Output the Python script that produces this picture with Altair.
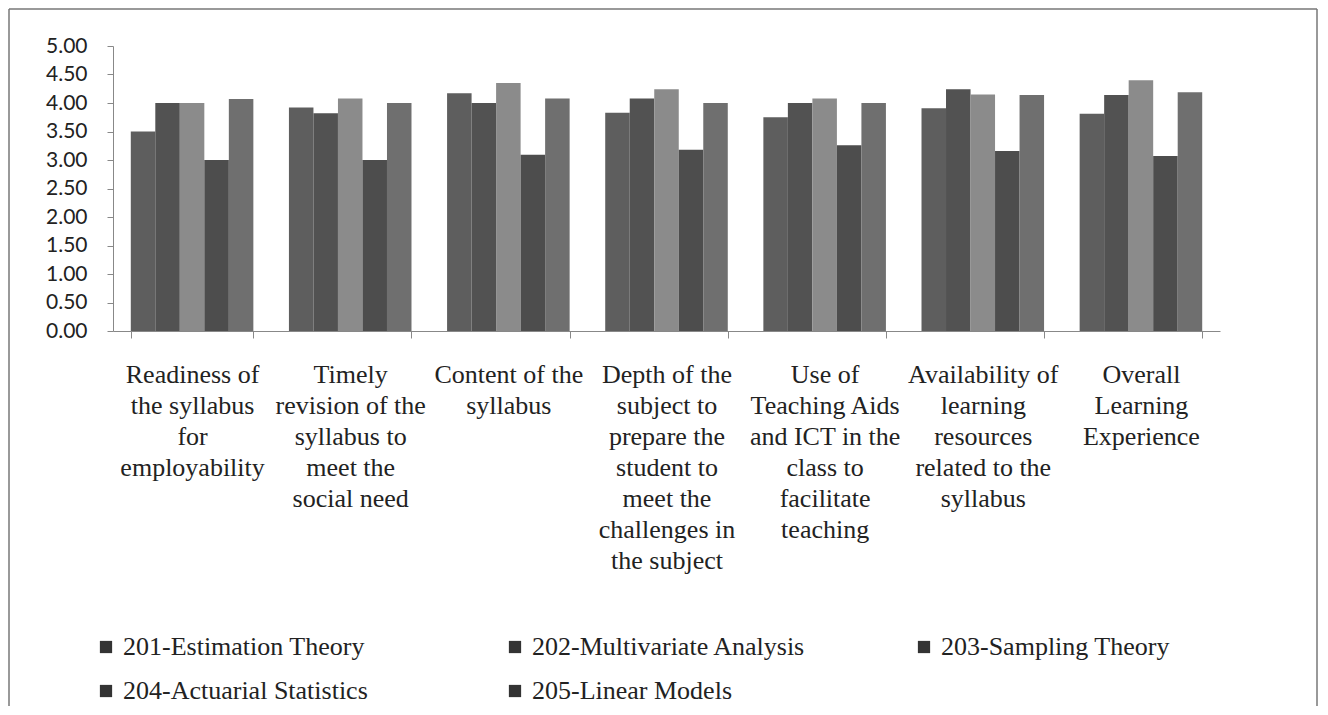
import altair as alt
import pandas as pd

# ---- data ----
categories = [
    "Readiness of|the syllabus|for|employability",
    "Timely|revision of the|syllabus to|meet the|social need",
    "Content of the|syllabus",
    "Depth of the|subject to|prepare the|student to|meet the|challenges in|the subject",
    "Use of|Teaching Aids|and ICT in the|class to|facilitate|teaching",
    "Availability of|learning|resources|related to the|syllabus",
    "Overall|Learning|Experience",
]
series = [
    "201-Estimation Theory",
    "202-Multivariate Analysis",
    "203-Sampling Theory",
    "204-Actuarial Statistics",
    "205-Linear Models",
]
v201 = [3.50, 3.92, 4.17, 3.83, 3.75, 3.91, 3.81]
v202 = [4.00, 3.82, 4.00, 4.08, 4.00, 4.24, 4.14]
v203 = [4.00, 4.08, 4.35, 4.24, 4.08, 4.15, 4.40]
v204 = [3.00, 3.00, 3.09, 3.18, 3.26, 3.16, 3.07]
v205 = [4.07, 4.00, 4.08, 4.00, 4.00, 4.14, 4.19]
y_ticks = [0, 0.5, 1, 1.5, 2, 2.5, 3, 3.5, 4, 4.5, 5]

bar_colors = ["#5e5e5e", "#525252", "#8b8b8b", "#4d4d4d", "#6f6f6f"]
legend_colors = ["#333333"] * 5

all_vals = [v201, v202, v203, v204, v205]
rows = []
for ci, cat in enumerate(categories):
    for s, vals in zip(series, all_vals):
        rows.append({"category": cat, "series": s, "value": vals[ci]})
df = pd.DataFrame(rows)

base = alt.Chart(df)

bars = base.mark_bar().encode(
    x=alt.X(
        "category:N",
        sort=categories,
        scale=alt.Scale(paddingInner=0.225, paddingOuter=0.1125),
        axis=alt.Axis(
            title=None,
            labelAngle=0,
            labelExpr="split(datum.label, '|')",
            tickBand="extent",
            tickSize=7,
            labelPadding=23,
            labelFont="Liberation Serif",
            labelFontSize=26,
            labelLineHeight=31,
            labelColor="#222222",
            labelBaseline="top",
            labelLimit=400,
            labelOverlap=False,
            domainColor="#888888",
            tickColor="#888888",
        ),
    ),
    xOffset=alt.XOffset("series:N", sort=series, scale=alt.Scale(paddingInner=0, paddingOuter=0)),
    y=alt.Y(
        "value:Q",
        scale=alt.Scale(domain=[0, 5], nice=False),
        axis=alt.Axis(
            title=None,
            values=y_ticks,
            format=".2f",
            grid=False,
            tickSize=6,
            labelPadding=20,
            labelFont="Lato",
            labelFontSize=21,
            labelColor="#222222",
            labelOverlap=False,
            labelFlush=False,
            domainColor="#888888",
            tickColor="#888888",
        ),
    ),
    color=alt.Color("series:N", scale=alt.Scale(domain=series, range=bar_colors), legend=None),
)

legend_layer = base.mark_point(filled=True, shape="square", opacity=0).encode(
    fill=alt.Fill(
        "series:N",
        sort=series,
        scale=alt.Scale(domain=series, range=legend_colors),
        legend=alt.Legend(
            title=None,
            orient="none",
            direction="horizontal",
            legendX=-20,
            legendY=588,
            columns=3,
            columnPadding=105,
            rowPadding=18,
            gridAlign="all",
            padding=0,
            symbolType="square",
            symbolSize=150,
            symbolOpacity=1,
            symbolStrokeWidth=0,
            labelFont="Liberation Serif",
            labelFontSize=26,
            labelColor="#222222",
            labelOffset=4,
            labelLimit=400,
        ),
    ),
)

frame_data = alt.Data(values=[{"k": 1}])
frame_left = alt.Chart(frame_data).mark_rule(color="#777777", strokeWidth=1.5).encode(
    x=alt.value(-104), y=alt.value(-37), y2=alt.value(680)
)
frame_top = alt.Chart(frame_data).mark_rule(color="#777777", strokeWidth=1.5).encode(
    x=alt.value(-104), x2=alt.value(1204), y=alt.value(-37)
)
frame_right = alt.Chart(frame_data).mark_rule(color="#777777", strokeWidth=1.5).encode(
    x=alt.value(1204), y=alt.value(-37), y2=alt.value(680)
)

chart = (
    alt.layer(bars, legend_layer, frame_left, frame_top, frame_right)
    .resolve_scale(color="independent", fill="independent")
    .properties(
        width=1107,
        height=285,
        padding={"left": 105, "top": 38, "right": 100, "bottom": 375},
        autosize=alt.AutoSizeParams(type="none"),
        background="white",
    )
    .configure_view(stroke=None)
)

chart.save("out.html", embed_options={"renderer": "svg", "actions": False})
